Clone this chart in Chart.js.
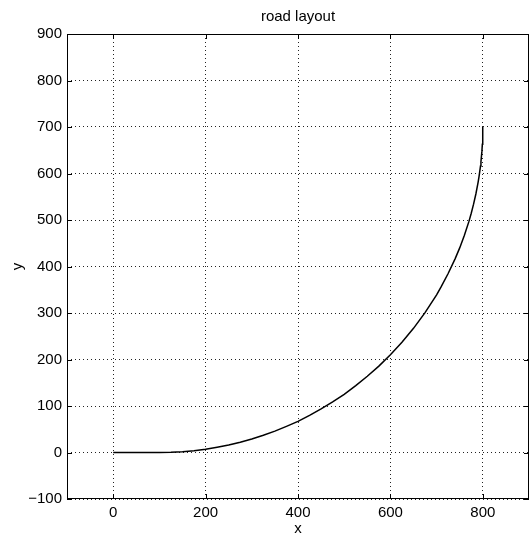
<!DOCTYPE html>
<html>
<head>
<meta charset="utf-8">
<script src="https://cdn.jsdelivr.net/npm/chart.js@4"></script>
<style>
  html, body { margin: 0; padding: 0; background: #fff; }
  #wrap { width: 531px; height: 539px; }
</style>
</head>
<body>
<div id="wrap"><canvas id="roadChart" width="531" height="539"></canvas></div>
<script>
// road centre line
const roadX = [0, 100, 125, 150, 175, 200, 225, 250, 275, 300, 325, 350, 375, 400, 425, 450, 475, 500, 525, 550, 575, 600, 625, 650, 675, 700, 710, 725, 740, 750, 760, 770, 775, 780, 785, 790, 792, 795, 796, 798, 799, 799.7, 800];
const roadY = [0, 0, 0.5, 1.8, 4, 7, 11.3, 16, 22.2, 29, 37.1, 46, 56.3, 67, 80, 94, 108.9, 125, 143.8, 164, 185.8, 210, 237, 267, 300.8, 339, 356.6, 385, 416.5, 440, 466.8, 497, 514.6, 534, 555.9, 582, 594.5, 616, 625.3, 647, 663, 679.5, 700];

const xTicks = [0, 200, 400, 600, 800];
const yTicks = [-100, 0, 100, 200, 300, 400, 500, 600, 700, 800, 900];

const fontFam = "'Liberation Sans', Arial, sans-serif";
const black = "#000";

// box round the axes + small inward ticks, matlab style
const boxPlugin = {
  id: 'box',
  afterDraw(chart) {
    const { ctx, chartArea: a, scales } = chart;
    ctx.save();
    ctx.strokeStyle = black;
    ctx.lineWidth = 1;
    ctx.strokeRect(a.left + 0.5, a.top + 0.5, a.right - a.left - 1, a.bottom - a.top - 1);
    ctx.beginPath();
    xTicks.forEach(v => {
      const px = Math.round(scales.x.getPixelForValue(v)) + 0.5;
      ctx.moveTo(px, a.bottom); ctx.lineTo(px, a.bottom - 5);
      ctx.moveTo(px, a.top); ctx.lineTo(px, a.top + 5);
    });
    yTicks.forEach(v => {
      const py = Math.round(scales.y.getPixelForValue(v)) + 0.5;
      ctx.moveTo(a.left, py); ctx.lineTo(a.left + 5, py);
      ctx.moveTo(a.right, py); ctx.lineTo(a.right - 5, py);
    });
    ctx.stroke();
    ctx.restore();
  }
};

const ctx = document.getElementById('roadChart');

new Chart(ctx, {
  type: 'scatter',
  data: {
    datasets: [{
      label: 'road',
      data: roadX.map((x, i) => ({ x: x, y: roadY[i] })),
      showLine: true,
      borderColor: black,
      borderWidth: 1.5,
      pointRadius: 0,
      tension: 0
    }]
  },
  options: {
    responsive: false,
    animation: false,
    layout: { padding: { left: 0, right: 2, top: 0, bottom: 0 } },
    plugins: {
      legend: { display: false },
      tooltip: { enabled: false },
      title: {
        display: true,
        text: 'road layout',
        fullSize: false,
        color: black,
        font: { family: fontFam, size: 15, weight: 'normal' },
        padding: { top: 8, bottom: 8 }
      }
    },
    scales: {
      x: {
        type: 'linear',
        min: -100,
        max: 900,
        afterBuildTicks: s => { s.ticks = xTicks.map(v => ({ value: v })); },
        afterFit: s => { s.height = 40; },
        grid: { color: '#222', drawTicks: false, lineWidth: 1 },
        border: { display: false, dash: [1, 3] },
        ticks: { color: black, padding: 5, font: { family: fontFam, size: 15 } },
        title: { display: true, text: 'x', color: black, padding: { top: 0, bottom: 1 }, font: { family: fontFam, size: 15 } }
      },
      y: {
        type: 'linear',
        min: -100,
        max: 900,
        afterBuildTicks: s => { s.ticks = yTicks.map(v => ({ value: v })); },
        afterFit: s => { s.width = 67; },
        grid: { color: '#222', drawTicks: false, lineWidth: 1 },
        border: { display: false, dash: [1, 3] },
        ticks: {
          color: black, padding: 5, font: { family: fontFam, size: 15 },
          callback: v => String(v).replace('-', '\u2212')
        },
        title: { display: true, text: 'y', color: black, padding: { top: 9, bottom: 0 }, font: { family: fontFam, size: 15 } }
      }
    }
  },
  plugins: [boxPlugin]
});
</script>
</body>
</html>
